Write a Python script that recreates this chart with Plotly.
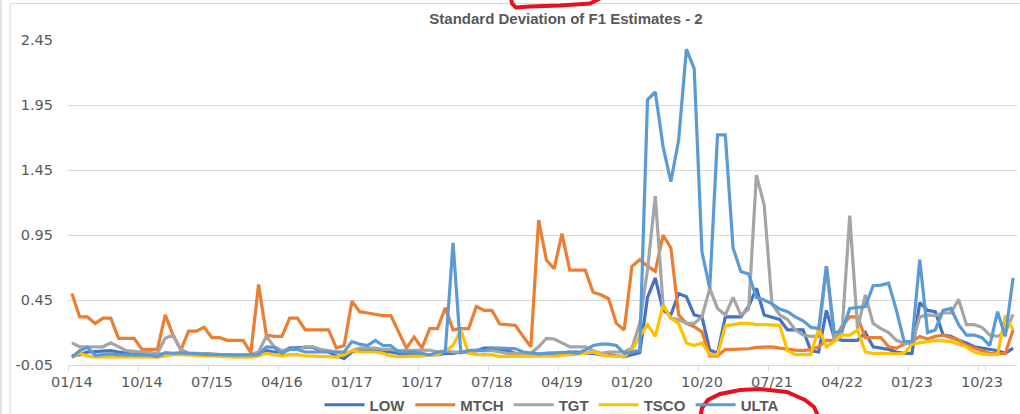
import pandas as pd
import plotly.graph_objects as go

# ---------------- data ----------------
months = [d.strftime("%m/%y") for d in pd.date_range("2014-01-01", "2024-02-01", freq="MS")]

LOW = [0.02, 0.03, 0.05, 0.055, 0.06, 0.06, 0.05, 0.04, 0.03, 0.03,
       0.03, 0.03, 0.03, 0.03, 0.035, 0.04, 0.04, 0.035, 0.03, 0.03,
       0.03, 0.03, 0.03, 0.03, 0.04, 0.06, 0.05, 0.05, 0.08, 0.085,
       0.085, 0.085, 0.06, 0.05, 0.02, 0.0, 0.05, 0.06, 0.06, 0.06,
       0.05, 0.05, 0.04, 0.04, 0.04, 0.03, 0.03, 0.03, 0.04, 0.04,
       0.05, 0.05, 0.06, 0.08, 0.08, 0.07, 0.06, 0.04, 0.03, 0.03,
       0.03, 0.04, 0.04, 0.04, 0.05, 0.05, 0.04, 0.04, 0.03, 0.03,
       0.02, 0.015, 0.03, 0.045, 0.47, 0.62, 0.37, 0.335, 0.50, 0.475,
       0.335, 0.32, 0.065, 0.04, 0.32, 0.32, 0.32, 0.40, 0.54, 0.335,
       0.32, 0.30, 0.22, 0.22, 0.22, 0.06, 0.05, 0.37, 0.16, 0.14,
       0.14, 0.14, 0.20, 0.09, 0.08, 0.07, 0.05, 0.04, 0.04, 0.43,
       0.37, 0.36, 0.18, 0.17, 0.14, 0.12, 0.09, 0.08, 0.065, 0.06,
       0.04, 0.08]

MTCH = [0.50, 0.32, 0.32, 0.27, 0.31, 0.31, 0.155, 0.155, 0.155, 0.07,
        0.07, 0.07, 0.335, 0.18, 0.065, 0.21, 0.21, 0.24, 0.16, 0.16,
        0.14, 0.14, 0.14, 0.045, 0.57, 0.18, 0.17, 0.17, 0.31, 0.31,
        0.22, 0.22, 0.22, 0.22, 0.08, 0.10, 0.44, 0.36, 0.35, 0.34,
        0.33, 0.33, 0.20, 0.08, 0.165, 0.08, 0.23, 0.23, 0.39, 0.22,
        0.23, 0.23, 0.40, 0.37, 0.37, 0.265, 0.26, 0.255, 0.17, 0.09,
        1.065, 0.757, 0.69, 0.96, 0.68, 0.68, 0.68, 0.51, 0.49, 0.46,
        0.27, 0.22, 0.71, 0.76, 0.71, 0.67, 0.95, 0.85, 0.335, 0.27,
        0.245, 0.205, 0.02, 0.02, 0.07, 0.07, 0.07, 0.075, 0.085, 0.09,
        0.09, 0.08, 0.07, 0.065, 0.06, 0.07, 0.09, 0.14, 0.14, 0.25,
        0.32, 0.32, 0.16, 0.16, 0.16, 0.09, 0.08, 0.11, 0.13, 0.17,
        0.15, 0.17, 0.18, 0.16, 0.14, 0.10, 0.08, 0.055, 0.04, 0.035,
        0.04, 0.22]

TGT = [0.12, 0.09, 0.09, 0.09, 0.09, 0.12, 0.09, 0.06, 0.055, 0.05,
       0.045, 0.04, 0.155, 0.18, 0.07, 0.04, 0.04, 0.04, 0.035, 0.03,
       0.03, 0.03, 0.03, 0.03, 0.05, 0.17, 0.09, 0.06, 0.07, 0.07,
       0.09, 0.09, 0.07, 0.06, 0.05, 0.03, 0.06, 0.08, 0.08, 0.08,
       0.07, 0.07, 0.06, 0.06, 0.06, 0.06, 0.065, 0.05, 0.06, 0.05,
       0.05, 0.05, 0.06, 0.06, 0.06, 0.05, 0.04, 0.04, 0.03, 0.04,
       0.09, 0.155, 0.15, 0.12, 0.09, 0.09, 0.09, 0.06, 0.04, 0.05,
       0.05, 0.05, 0.08, 0.27, 0.68, 1.25, 0.41, 0.31, 0.30, 0.27,
       0.27, 0.32, 0.54, 0.385, 0.335, 0.47, 0.335, 0.38, 1.41, 1.18,
       0.42, 0.335, 0.30, 0.22, 0.18, 0.17, 0.17, 0.71, 0.16, 0.20,
       1.10, 0.23, 0.49, 0.27, 0.23, 0.20, 0.14, 0.117, 0.117, 0.32,
       0.335, 0.33, 0.35, 0.35, 0.455, 0.26, 0.26, 0.24, 0.18, 0.17,
       0.20, 0.34]

TSCO = [0.01, 0.04, 0.02, 0.01, 0.015, 0.015, 0.01, 0.01, 0.01, 0.01,
        0.01, 0.01, 0.02, 0.03, 0.03, 0.025, 0.025, 0.02, 0.02, 0.015,
        0.01, 0.01, 0.01, 0.01, 0.02, 0.04, 0.03, 0.02, 0.03, 0.03,
        0.02, 0.02, 0.02, 0.015, 0.01, 0.03, 0.06, 0.05, 0.05, 0.05,
        0.04, 0.02, 0.015, 0.015, 0.02, 0.02, 0.025, 0.03, 0.06, 0.10,
        0.22, 0.04, 0.03, 0.03, 0.03, 0.015, 0.015, 0.02, 0.02, 0.02,
        0.02, 0.02, 0.02, 0.025, 0.03, 0.03, 0.04, 0.05, 0.03, 0.02,
        0.015, 0.015, 0.065, 0.17, 0.26, 0.17, 0.41, 0.31, 0.27, 0.12,
        0.10, 0.12, 0.03, 0.03, 0.25, 0.26, 0.27, 0.27, 0.26, 0.26,
        0.26, 0.255, 0.06, 0.03, 0.03, 0.03, 0.23, 0.09, 0.13, 0.18,
        0.18, 0.22, 0.05, 0.04, 0.04, 0.035, 0.035, 0.04, 0.11, 0.12,
        0.13, 0.14, 0.135, 0.13, 0.11, 0.09, 0.05, 0.035, 0.03, 0.03,
        0.33, 0.22]

ULTA = [0.01, 0.06, 0.085, 0.025, 0.03, 0.035, 0.03, 0.03, 0.025, 0.025,
        0.025, 0.015, 0.045, 0.04, 0.045, 0.04, 0.035, 0.035, 0.03, 0.03,
        0.025, 0.025, 0.025, 0.025, 0.03, 0.09, 0.085, 0.04, 0.07, 0.07,
        0.05, 0.05, 0.05, 0.05, 0.05, 0.05, 0.13, 0.11, 0.10, 0.14,
        0.10, 0.10, 0.05, 0.05, 0.05, 0.04, 0.027, 0.05, 0.05, 0.89,
        0.045, 0.06, 0.065, 0.06, 0.08, 0.08, 0.08, 0.075, 0.05, 0.04,
        0.035, 0.04, 0.045, 0.05, 0.05, 0.04, 0.065, 0.10, 0.11, 0.11,
        0.10, 0.04, 0.05, 0.06, 1.99, 2.05, 1.63, 1.36, 1.68, 2.38,
        2.23, 0.82, 0.54, 1.72, 1.72, 0.85, 0.67, 0.65, 0.47, 0.45,
        0.42, 0.38, 0.36, 0.32, 0.29, 0.24, 0.23, 0.71, 0.20, 0.21,
        0.385, 0.39, 0.40, 0.56, 0.565, 0.58, 0.37, 0.13, 0.13, 0.76,
        0.20, 0.22, 0.37, 0.385, 0.26, 0.18, 0.18, 0.16, 0.10, 0.36,
        0.17, 0.62]

series_names = ["LOW", "MTCH", "TGT", "TSCO", "ULTA"]
series_values = [LOW, MTCH, TGT, TSCO, ULTA]
series_colors = ["#4472C4", "#ED7D31", "#A5A5A5", "#FFC000", "#5B9BD5"]

x_tick_labels = months[::9]
y_tick_vals = [-0.05, 0.45, 0.95, 1.45, 1.95, 2.45]
y_tick_text = ["-0.05", "0.45", "0.95", "1.45", "1.95", "2.45"]

title_text = "Standard Deviation of F1 Estimates - 2"

# ---------------- layout geometry (pixels) ----------------
W, H = 1020, 414
L, R, T, B = 68, 3, 39.5, 49
PW, PH = W - L - R, H - T - B


def px(x):
    return (x - L) / PW


def py(y):
    return (H - B - y) / PH


def path(points):
    pts = [f"{px(x):.5f},{py(y):.5f}" for x, y in points]
    return "M" + " L".join(pts)


fig = go.Figure()
for name, vals, col in zip(series_names, series_values, series_colors):
    fig.add_trace(go.Scatter(x=months, y=vals, name=name, mode="lines",
                             line=dict(color=col, width=3.2)))

shapes = [
    dict(type="rect", xref="paper", yref="paper", x0=px(10), x1=px(1040),
         y0=py(440), y1=py(3), line=dict(color="#D9D9D9", width=1), layer="below"),
    dict(type="line", xref="paper", yref="paper", x0=px(1), x1=px(1),
         y0=py(440), y1=py(0), line=dict(color="#D9D9D9", width=1.5), layer="below"),
    dict(type="path", xref="paper", yref="paper",
         path=path([(511, -3), (512, 3), (516, 7), (530, 6), (560, 5), (590, 3), (600, -2)]),
         line=dict(color="#E8101E", width=4)),
    dict(type="path", xref="paper", yref="paper",
         path=path([(700, 418), (702, 408), (708, 400), (720, 394), (740, 390),
                    (760, 389), (787, 392), (805, 400), (814, 407), (819, 418)]),
         line=dict(color="#E8101E", width=4)),
]

fig.update_layout(
    width=W, height=H,
    margin=dict(l=L, r=R, t=T, b=B, pad=0, autoexpand=False),
    paper_bgcolor="white", plot_bgcolor="white",
    title=dict(text="<b>" + title_text + "</b>", x=px(566), xref="paper", xanchor="center",
               y=1 - 19 / H, yanchor="middle",
               font=dict(family="Liberation Sans", size=15, color="#595959")),
    showlegend=True,
    legend=dict(orientation="h", xref="container", x=552 / W, xanchor="center",
                yref="container", y=1 - 405 / H, yanchor="middle",
                font=dict(family="Liberation Sans", size=15, color="#595959", weight="bold"),
                itemwidth=40, bgcolor="rgba(0,0,0,0)"),
    shapes=shapes,
    xaxis=dict(type="category", range=[-0.5, len(months) - 0.5],
               tickmode="array", tickvals=x_tick_labels, ticktext=x_tick_labels,
               tickangle=0,
               tickson="boundaries", ticks="outside", ticklen=5, tickcolor="#D9D9D9",
               showgrid=False, showline=True, linecolor="#D9D9D9", linewidth=1,
               tickfont=dict(family="DejaVu Sans", size=14.5, color="#595959"),
               ticklabelstandoff=4, zeroline=False, fixedrange=True),
    yaxis=dict(range=[-0.05, 2.45], tickmode="array", tickvals=y_tick_vals,
               ticktext=y_tick_text, showgrid=True, gridcolor="#D9D9D9", gridwidth=1,
               zeroline=False, showline=False, ticks="",
               tickfont=dict(family="DejaVu Sans", size=14.5, color="#595959"),
               ticklabelstandoff=14, fixedrange=True),
)

fig.write_html("out.html", config={"displayModeBar": False},
               post_script="document.body.style.margin='0px';document.body.style.overflow='hidden';")
